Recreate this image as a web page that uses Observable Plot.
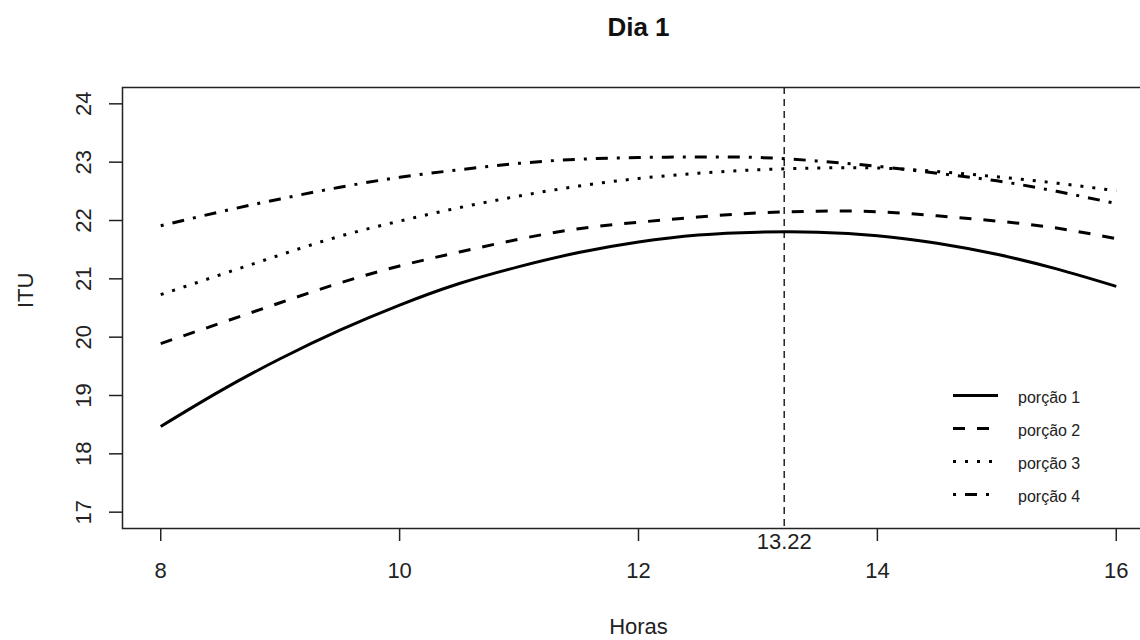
<!DOCTYPE html>
<html>
<head>
<meta charset="utf-8">
<script src="https://cdn.jsdelivr.net/npm/d3@7"></script>
<script src="https://cdn.jsdelivr.net/npm/@observablehq/plot@0.6"></script>
<style>
  html, body { margin: 0; padding: 0; background: #fff; overflow: hidden; }
  #chart { position: relative; width: 1140px; height: 640px; overflow: hidden; }
</style>
</head>
<body>
<div id="chart"></div>
<script>
// ---- data ----
const title = "Dia 1";
const xLabel = "Horas";
const yLabel = "ITU";
const seriesNames = ["porção 1", "porção 2", "porção 3", "porção 4"];
const hours   = [8, 8.5, 9, 9.5, 10, 10.5, 11, 11.5, 12, 12.5, 13, 13.5, 14, 14.5, 15, 15.5, 16];
const porcao1 = [18.47, 19.08, 19.63, 20.12, 20.55, 20.92, 21.21, 21.45, 21.63, 21.75, 21.80, 21.80, 21.74, 21.61, 21.42, 21.17, 20.87];
const porcao2 = [19.89, 20.24, 20.59, 20.93, 21.22, 21.46, 21.68, 21.86, 21.97, 22.06, 22.13, 22.16, 22.15, 22.08, 21.99, 21.87, 21.69];
const porcao3 = [20.73, 21.07, 21.41, 21.73, 21.99, 22.22, 22.42, 22.59, 22.72, 22.81, 22.87, 22.90, 22.90, 22.84, 22.75, 22.64, 22.51];
const porcao4 = [21.91, 22.15, 22.37, 22.57, 22.74, 22.87, 22.98, 23.05, 23.08, 23.09, 23.08, 23.02, 22.93, 22.81, 22.68, 22.50, 22.29];
const xTicks = [8, 10, 12, 14, 16];
const yTicks = [17, 18, 19, 20, 21, 22, 23, 24];
const markerX = [13.22];

// ---- styles ----
const FONT = '"Liberation Sans", Arial, Helvetica, sans-serif';
const INK = "#222";
const dashes = [null, "12,12", "3,9", "3,9,12,9"];
const seriesValues = [porcao1, porcao2, porcao3, porcao4];

const rows = [];
seriesNames.forEach((name, si) => {
  hours.forEach((h, i) => rows.push({series: name, hour: h, value: seriesValues[si][i]}));
});

const lineMarks = seriesNames.map((name, si) =>
  Plot.line(rows.filter(d => d.series === name), {
    x: "hour", y: "value", curve: "natural",
    stroke: "black", strokeWidth: 3,
    strokeDasharray: dashes[si] || undefined,
    strokeLinecap: "butt", strokeLinejoin: "round"
  })
);

const chart = Plot.plot({
  width: 1140,
  height: 640,
  marginLeft: 122,
  marginRight: -14,
  marginTop: 87,
  marginBottom: 112,
  style: {fontFamily: FONT, fontSize: "22px", color: INK, background: "#fff"},
  x: {domain: [7.68, 16.32]},
  y: {domain: [16.72, 24.28]},
  marks: [
    Plot.axisY({ticks: yTicks, tickSize: 13, tickRotate: -90, tickPadding: 19, label: null, strokeWidth: 1.5}),
    Plot.axisX({ticks: xTicks, tickSize: 13, tickPadding: 21, label: null, strokeWidth: 1.5}),
    Plot.axisX({ticks: markerX, tickSize: 0, tickPadding: 5, label: null, tickFormat: d => String(d)}),
    Plot.ruleX(markerX, {stroke: INK, strokeWidth: 1.5, strokeDasharray: "7,5"}),
    ...lineMarks,
    Plot.frame({stroke: INK, strokeWidth: 1.5}),
    Plot.text([title], {text: d => d, frameAnchor: "top", dy: -52, lineAnchor: "bottom", fontSize: 26, fontWeight: "bold", fill: "#111"}),
    Plot.text([xLabel], {text: d => d, frameAnchor: "bottom", dy: 105, lineAnchor: "bottom", fontSize: 22, fill: INK}),
    Plot.text([yLabel], {text: d => d, frameAnchor: "left", dx: -90, rotate: -90, lineAnchor: "bottom", fontSize: 22, fill: INK})
  ]
});

document.getElementById("chart").appendChild(chart);

// ---- legend (inside plot area, bottom-right) ----
const svg = d3.select(chart);
const lg = svg.append("g").attr("class", "legend").attr("text-anchor", "start");
seriesNames.forEach((name, i) => {
  const y = 395.5 + i * 33;
  lg.append("line")
    .attr("x1", 953).attr("x2", 998).attr("y1", y).attr("y2", y)
    .attr("stroke", "black").attr("stroke-width", 3)
    .attr("stroke-linecap", "butt")
    .attr("stroke-dasharray", dashes[i]);
  lg.append("text")
    .attr("x", 1018).attr("y", y + 7)
    .attr("text-anchor", "start")
    .attr("font-family", FONT).attr("font-size", 16).attr("fill", INK)
    .text(name);
});
</script>
</body>
</html>
